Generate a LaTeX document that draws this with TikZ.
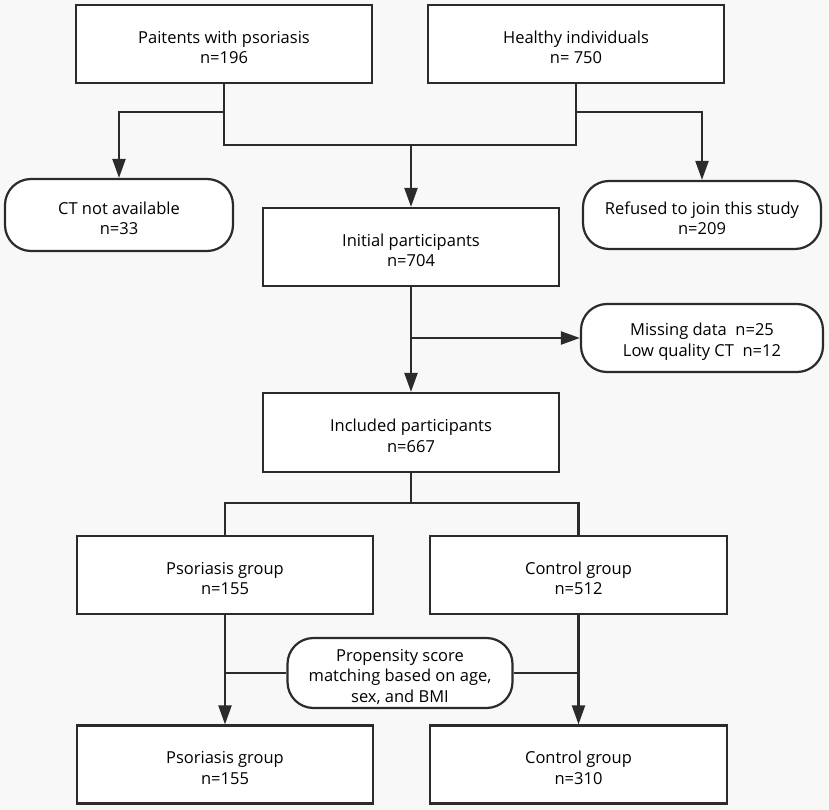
\documentclass[tikz,border=0pt]{standalone}
\usepackage{fontspec}
\setmainfont{Open Sans}
\usetikzlibrary{arrows.meta}
\definecolor{bg}{HTML}{F8F8F8}
\definecolor{ln}{HTML}{2B2B2B}
\newcommand\mytopstrut{\rule{0pt}{19.5pt}}
\begin{document}
\begin{tikzpicture}[x=1pt,y=-1pt,
  box/.style={draw=ln,line width=2.2pt,fill=white,minimum width=296pt,minimum height=78pt,inner sep=0pt,align=center,font=\fontsize{16.5}{20.5}\selectfont},
  rbox/.style={box,rounded corners=26pt},
  conn/.style={draw=ln,line width=2.2pt},
  arr/.style={conn,-{Triangle[width=13pt,length=19pt]}},
]
\fill[bg] (0,0) rectangle (829,810);
\useasboundingbox (0,0) rectangle (829,810);
\node[box] (p1) at (224,44) {\mytopstrut Paitents with psoriasis\\n=196};
\node[box] (h1) at (576,44) {\mytopstrut Healthy individuals\\n= 750};
\node[rbox,minimum width=228pt,minimum height=72pt] (ct) at (119,215) {\mytopstrut CT not available\\n=33};
\node[rbox,minimum width=238pt,minimum height=68pt] (ref) at (702,215) {\mytopstrut Refused to join this study\\n=209};
\node[box] (init) at (411,247) {\mytopstrut Initial participants\\n=704};
\node[rbox,minimum width=242pt,minimum height=68pt] (miss) at (702,338) {\mytopstrut Missing data\ \ n=25\\Low quality CT\ \ n=12};
\node[box,minimum height=79pt] (incl) at (411,432.5) {\mytopstrut Included participants\\n=667};
\node[box] (psg) at (225,575) {\mytopstrut Psoriasis group\\n=155};
\node[box,minimum width=297pt] (ctl) at (578.5,575) {\mytopstrut Control group\\n=512};
\node[box] (psg2) at (225,764.5) {\mytopstrut Psoriasis group\\n=155};
\node[box,minimum width=297pt] (ctl2) at (578.5,764.5) {\mytopstrut Control group\\n=310};
\coordinate (ja) at (0,112);
\coordinate (jb) at (411,145);
\coordinate (jc) at (411,503);
% top connectors
\draw[arr] (p1.south) -- (p1.south |- ja) -| (ct.north);
\draw[arr] (h1.south) -- (h1.south |- ja) -| (ref.north);
\draw[conn] (p1.south) |- (jb);
\draw[conn] (h1.south) |- (jb);
\draw[arr] (jb) -- (init.north);
% middle
\draw[arr] (init.south) -- (incl.north);
\draw[arr] (init.south |- miss.west) -- (miss.west);
% split
\draw[conn] (incl.south) -- (jc);
\draw[conn] (psg.north) |- (jc) -| (ctl.north);
% bottom
\draw[arr] (psg.south) -- (psg2.north);
\draw[arr] (ctl.south) -- (ctl2.north);
\node[rbox,minimum width=225pt,minimum height=70pt] (prop) at (400,673) {\mytopstrut Propensity score\\matching based on age,\\sex, and BMI};
\draw[conn] (psg.south |- prop.west) -- (prop.west);
\draw[conn] (prop.east) -- (ctl.south |- prop.east);
\end{tikzpicture}
\end{document}
